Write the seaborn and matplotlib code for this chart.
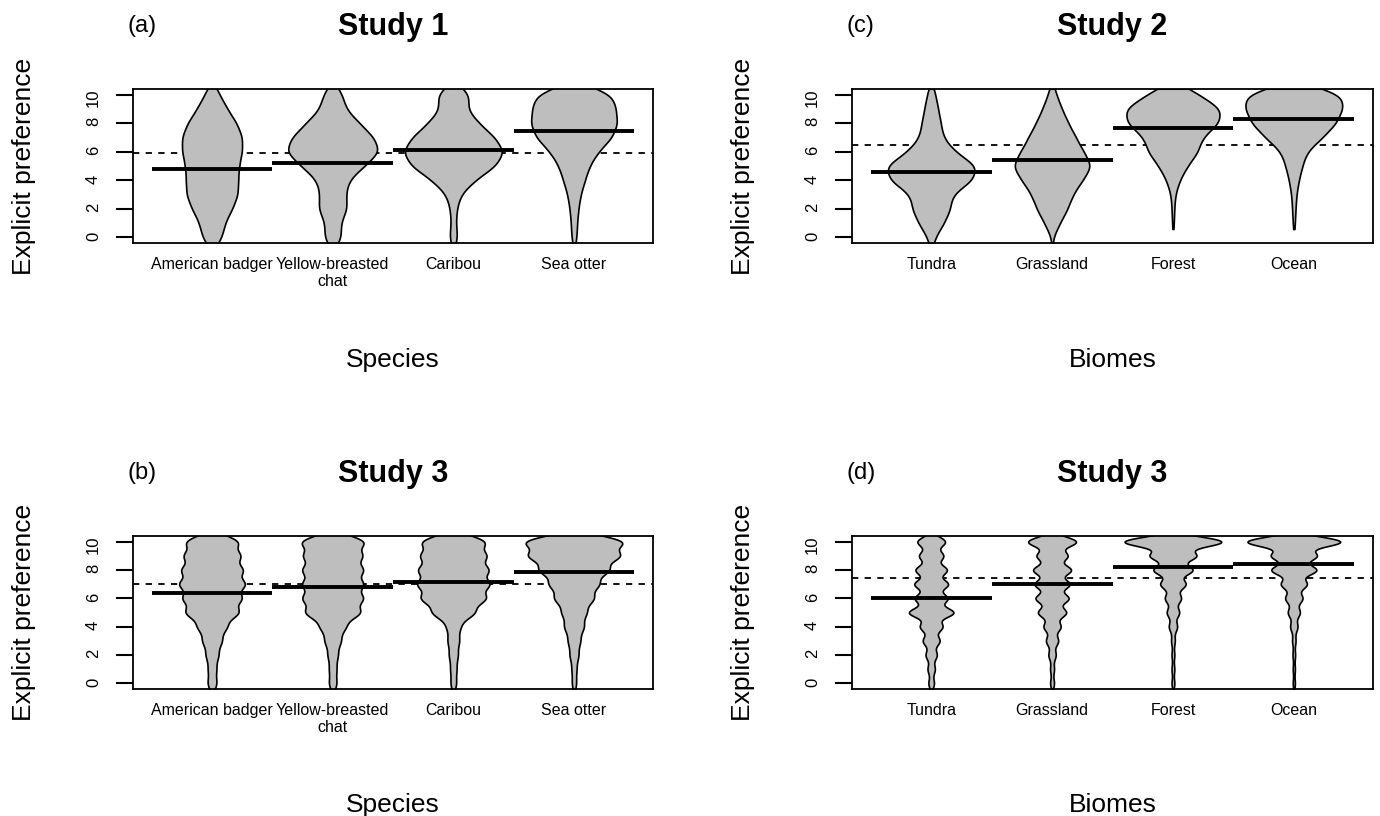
import numpy as np
import pandas as pd
import matplotlib
matplotlib.use("Agg")
import matplotlib.pyplot as plt
import seaborn as sns

sns.set_theme(style="white")
plt.rcParams["font.family"] = ["Liberation Sans", "DejaVu Sans"]
plt.rcParams["text.color"] = "black"
plt.rcParams["axes.labelcolor"] = "black"
plt.rcParams["xtick.color"] = "black"
plt.rcParams["ytick.color"] = "black"

# ===== data =====
RATINGS = list(range(11))  # rating scale 0..10

SPECIES = ["American badger", "Yellow-breasted\nchat", "Caribou", "Sea otter"]
BIOMES = ["Tundra", "Grassland", "Forest", "Ocean"]

# responses per rating 0..10, estimated from bean widths
STUDY1_SPECIES_COUNTS = [
    [50, 62, 100, 128, 128, 132, 148, 150, 122, 75, 38],
    [50, 42, 82, 72, 88, 175, 265, 230, 150, 72, 55],
    [25, 14, 20, 42, 125, 250, 300, 245, 150, 78, 100],
    [12, 14, 20, 30, 50, 70, 110, 175, 200, 190, 180],
]
STUDY2_BIOME_COUNTS = [
    [18, 60, 90, 95, 195, 215, 110, 55, 45, 32, 20],
    [4, 36, 72, 95, 140, 185, 145, 110, 75, 45, 20],
    [0, 4, 6, 10, 30, 65, 115, 130, 210, 220, 120],
    [0, 5, 8, 12, 23, 40, 60, 135, 200, 230, 235],
]
STUDY3_SPECIES_COUNTS = [
    [19, 17, 26, 40, 60, 110, 120, 135, 125, 115, 110],
    [17, 16, 22, 35, 55, 120, 130, 130, 130, 125, 140],
    [13, 14, 20, 26, 30, 95, 145, 160, 155, 145, 145],
    [9, 10, 18, 25, 40, 50, 80, 100, 140, 185, 205],
]
STUDY3_BIOME_COUNTS = [
    [10, 13, 20, 30, 40, 80, 58, 60, 56, 43, 50],
    [8, 8, 15, 25, 35, 58, 68, 72, 78, 63, 100],
    [6, 6, 6, 8, 18, 27, 35, 55, 85, 100, 215],
    [5, 5, 6, 8, 17, 28, 40, 60, 105, 105, 220],
]

# bean means and overall means
STUDY1_SPECIES_MEANS = [4.80, 5.20, 6.14, 7.42]
STUDY2_BIOME_MEANS = [4.61, 5.39, 7.70, 8.31]
STUDY3_SPECIES_MEANS = [6.35, 6.78, 7.13, 7.84]
STUDY3_BIOME_MEANS = [6.00, 7.04, 8.24, 8.40]
OVERALL_MEANS = [5.88, 6.49, 7.04, 7.41]

# ===== figure =====
fig = plt.figure(figsize=(13.8, 8.16), dpi=100)
W, H = 1380, 816


def panel_axes(x0, y0, x1, y1):
    return fig.add_axes([x0 / W, 1 - y1 / H, (x1 - x0) / W, (y1 - y0) / H])


def bean_panel(ax, cats, counts, means, overall, bw, cut, title, tag, xlabel):
    df = pd.DataFrame({
        "group": np.repeat(cats, [sum(c) for c in counts]),
        "rating": np.concatenate([np.repeat(RATINGS, c) for c in counts]).astype(float),
    })
    ax.axhline(overall, color="black", lw=1.3, ls=(0, (3.5, 3.5)), zorder=0.5)
    sns.violinplot(data=df, x="group", y="rating", order=cats, ax=ax,
                   color="#BEBEBE", linecolor="black", linewidth=1.2,
                   inner=None, density_norm="area", width=0.8, saturation=1,
                   bw_method=lambda k: bw / k.dataset.std(ddof=1),
                   cut=cut, gridsize=400)
    pos = np.arange(len(cats))
    ax.hlines(means, pos - 0.5, pos + 0.5, color="black", lw=2.8, zorder=3)

    ax.set_xlim(-0.655, len(cats) - 1 + 0.655)
    ax.set_ylim(-0.4, 10.4)
    ax.set_yticks([0, 2, 4, 6, 8, 10])
    ax.tick_params(axis="y", length=12, width=1.5, pad=11, labelsize=12,
                   labelrotation=90, left=True, color="black")
    ax.tick_params(axis="x", length=0, pad=10, labelsize=11.5)
    for sp in ax.spines.values():
        sp.set_color("black")
        sp.set_linewidth(1.3)
        sp.set_visible(True)

    ax.set_title(title, fontsize=22, fontweight="bold", pad=39)
    ax.text(0.017, 1.41, tag, transform=ax.transAxes, ha="center",
            va="center", fontsize=17)
    ax.set_ylabel("Explicit preference", fontsize=19)
    ax.yaxis.set_label_coords(-0.186, 0.5)
    ax.set_xlabel(xlabel, fontsize=19, va="top")
    ax.xaxis.set_label_coords(0.5, -0.68)


ax_a = panel_axes(133, 89, 653, 243)
bean_panel(ax_a, SPECIES, STUDY1_SPECIES_COUNTS, STUDY1_SPECIES_MEANS,
           OVERALL_MEANS[0], 0.6, 3, "Study 1", "(a)", "Species")

ax_c = panel_axes(852, 89, 1373, 243)
bean_panel(ax_c, BIOMES, STUDY2_BIOME_COUNTS, STUDY2_BIOME_MEANS,
           OVERALL_MEANS[1], 0.6, 0.7, "Study 2", "(c)", "Biomes")

ax_b = panel_axes(133, 536, 653, 689)
bean_panel(ax_b, SPECIES, STUDY3_SPECIES_COUNTS, STUDY3_SPECIES_MEANS,
           OVERALL_MEANS[2], 0.45, 3, "Study 3", "(b)", "Species")

ax_d = panel_axes(852, 536, 1373, 689)
bean_panel(ax_d, BIOMES, STUDY3_BIOME_COUNTS, STUDY3_BIOME_MEANS,
           OVERALL_MEANS[3], 0.35, 3, "Study 3", "(d)", "Biomes")

fig.savefig("out.png", dpi=100, facecolor="white")
